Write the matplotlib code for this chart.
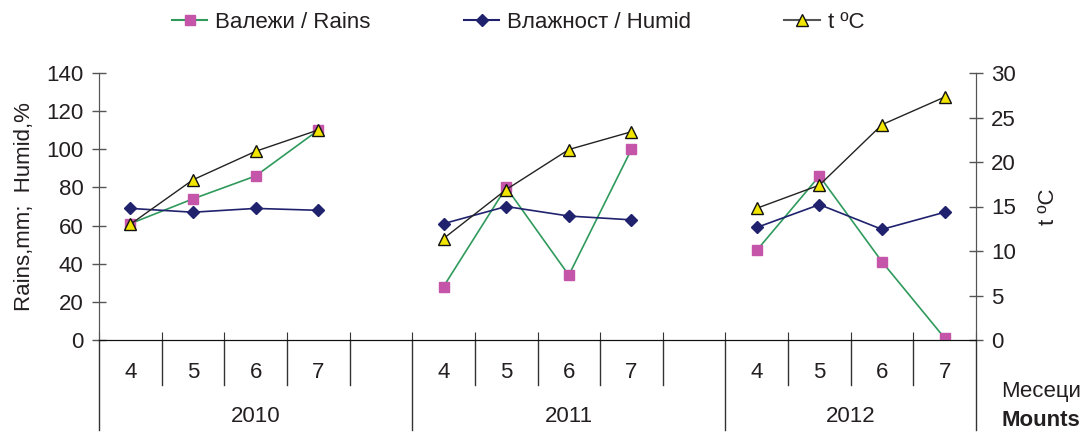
import numpy as np
import matplotlib
matplotlib.use("Agg")
import matplotlib.pyplot as plt
import matplotlib.transforms as mtransforms
from matplotlib.lines import Line2D

plt.rcParams['font.family'] = ['Liberation Sans', 'DejaVu Sans']

# Months per year (blank slot between years)
months = ['4', '5', '6', '7', '', '4', '5', '6', '7', '', '4', '5', '6', '7']
years = ['2010', '2011', '2012']

nan = np.nan
rains = [61, 74, 86, 110, nan, 28, 80, 34, 100, nan, 47, 86, 41, 1]
humid = [69, 67, 69, 68, nan, 61, 70, 65, 63, nan, 59, 71, 58, 67]
temp = [13.0, 18.0, 21.2, 23.6, nan, 11.4, 16.9, 21.4, 23.4, nan, 14.8, 17.4, 24.2, 27.3]

TXT = '#231f20'
FS = 16
C_RAIN_LINE = '#2f9a5c'
C_RAIN_MK = '#c455a8'
C_HUMID = '#20226e'
C_TEMP_MK = '#f2e600'

fig = plt.figure(figsize=(10.81, 4.33), dpi=100)
ax = fig.add_axes([99 / 1081, 1 - 340 / 433, (976 - 99) / 1081, (340 - 73) / 433])
ax2 = ax.twinx()

x = np.arange(len(months)) + 0.5

ax.plot(x, rains, color=C_RAIN_LINE, lw=1.2, marker='s', ms=7,
        mfc=C_RAIN_MK, mec=C_RAIN_MK, zorder=3)
ax.plot(x, humid, color=C_HUMID, lw=1.2, marker='D', ms=6,
        mfc=C_HUMID, mec=C_HUMID, zorder=3)
ax2.plot(x, temp, color='#222222', lw=1.0, marker='^', ms=9,
         mfc=C_TEMP_MK, mec='#111111', mew=1.0, zorder=3)

ax.set_xlim(0, len(months))
ax.set_ylim(0, 140)
ax.set_yticks(range(0, 141, 20))
ax2.set_ylim(0, 30)
ax2.set_yticks(range(0, 31, 5))

for a in (ax, ax2):
    a.spines['top'].set_visible(False)
    a.spines['left'].set_color('#555555')
    a.spines['right'].set_color('#555555')
    a.spines['bottom'].set_color('#111111')
    a.tick_params(axis='y', direction='inout', length=10, width=1,
                  color='#555555', labelsize=FS, labelcolor=TXT, pad=6)

ax.set_xticks(range(0, len(months) + 1))
ax.set_xticklabels([])
ax.tick_params(axis='x', direction='in', length=6, color='#333333')

# Category separators and labels below the axis
trans = mtransforms.blended_transform_factory(ax.transData, ax.transAxes)
year_bounds = [0, 5, 10, 14]
for i in range(len(months) + 1):
    bottom = -0.337 if i in year_bounds else -0.168
    ax.plot([i, i], [0, bottom], color='#333333', lw=1, transform=trans, clip_on=False)
for i, m in enumerate(months):
    ax.text(i + 0.5, -0.12, m, transform=trans, ha='center', va='center',
            fontsize=FS, color=TXT)
for k, yr in enumerate(years):
    ax.text((year_bounds[k] + year_bounds[k + 1]) / 2, -0.285, yr, transform=trans,
            ha='center', va='center', fontsize=FS, color=TXT)

fig.text(1041 / 1081, 1 - 391 / 433, 'Месеци', ha='center', va='center',
         fontsize=FS, color=TXT)
fig.text(1041 / 1081, 1 - 420 / 433, 'Mounts', ha='center', va='center',
         fontsize=FS, color=TXT, fontweight='bold')

ax.set_ylabel('Rains,mm;  Humid,%', fontsize=FS, color=TXT, labelpad=8)
ax2.set_ylabel('t ºC', fontsize=FS, color=TXT, labelpad=16)

handles = [
    Line2D([], [], color=C_RAIN_LINE, lw=1.5, marker='s', ms=7, mfc=C_RAIN_MK, mec=C_RAIN_MK),
    Line2D([], [], color=C_HUMID, lw=1.5, marker='D', ms=6, mfc=C_HUMID, mec=C_HUMID),
    Line2D([], [], color='#555555', lw=1.5, marker='^', ms=8, mfc=C_TEMP_MK, mec='#111111'),
]
labels = ['Валежи / Rains', 'Влажност / Humid', 't ºC']
fig.legend(handles, labels, loc='center', bbox_to_anchor=(518 / 1081, 1 - 22 / 433),
           ncol=3, frameon=False, fontsize=FS, handlelength=1.6, handletextpad=0.35,
           columnspacing=4.2, labelcolor=TXT)

fig.savefig('out.png', dpi=100)
